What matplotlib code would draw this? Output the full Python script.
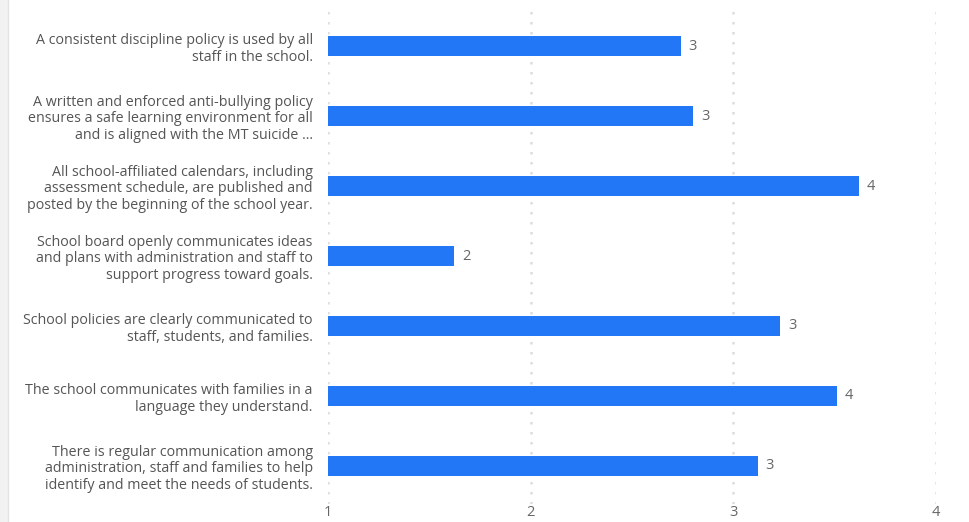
import numpy as np
import matplotlib.pyplot as plt
from matplotlib.patches import Rectangle

categories = [
    "A consistent discipline policy is used by all\nstaff in the school.",
    "A written and enforced anti-bullying policy\nensures a safe learning environment for all\nand is aligned with the MT suicide ...",
    "All school-affiliated calendars, including\nassessment schedule, are published and\nposted by the beginning of the school year.",
    "School board openly communicates ideas\nand plans with administration and staff to\nsupport progress toward goals.",
    "School policies are clearly communicated to\nstaff, students, and families.",
    "The school communicates with families in a\nlanguage they understand.",
    "There is regular communication among\nadministration, staff and families to help\nidentify and meet the needs of students.",
]
values = [2.74, 2.80, 3.62, 1.62, 3.23, 3.51, 3.12]
x_ticks = [1, 2, 3, 4]

plt.rcParams['font.family'] = ['Open Sans', 'DejaVu Sans']

fig = plt.figure(figsize=(9.69, 5.22), dpi=100)
fig.patch.set_facecolor('white')

# light gray strip on the left edge
fig.patches.append(Rectangle((0, 0), 8 / 969, 1, transform=fig.transFigure,
                             facecolor='#f2f2f2', edgecolor='none', zorder=0))
fig.add_artist(plt.Line2D([8 / 969, 8 / 969], [0, 1], color='#e4e4e4', lw=1))

ax = fig.add_axes([328 / 969, 18 / 522, (936 - 328) / 969, 496 / 522])

y = np.arange(len(categories))
bars = ax.barh(y, [v - 1 for v in values], left=1, height=0.29,
               color='#2277f6', zorder=3)

for yi, v in zip(y, values):
    ax.text(v + 0.04, yi, f"{round(v)}", va='center', ha='left',
            fontsize=10.5, color='#666666')

ax.set_xlim(1, 4)
ax.set_ylim(6.543, -0.543)
ax.set_xticks(x_ticks)
ax.set_xticklabels([str(t) for t in x_ticks], fontsize=10.5, color='#666666')
ax.set_yticks(y)
ax.set_yticklabels(categories, fontsize=10.3, color='#555555', linespacing=1.15)

ax.tick_params(axis='both', length=0)
ax.tick_params(axis='y', pad=11)
ax.tick_params(axis='x', pad=1)

for s in ax.spines.values():
    s.set_visible(False)

ax.grid(axis='x', color='#dddddd', linestyle=(0, (1, 3)), lw=1.8, zorder=0)
ax.set_axisbelow(True)

fig.savefig('out.png', dpi=100)
